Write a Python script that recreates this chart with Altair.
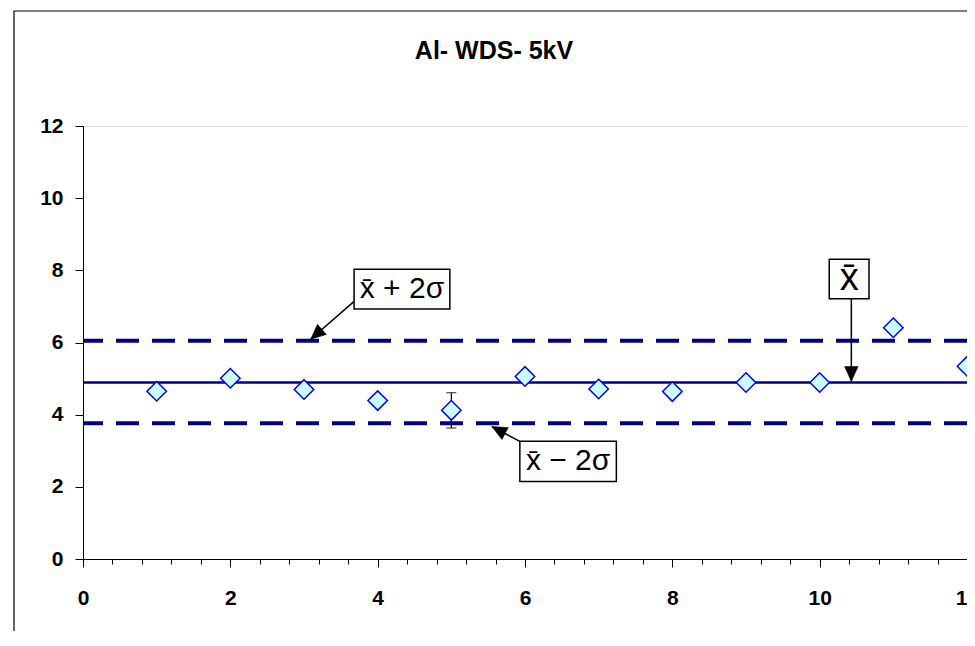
import math
import altair as alt
import pandas as pd

# ---------------- data ----------------
sample = [1, 2, 3, 4, 5, 6, 7, 8, 9, 10, 11, 12]
value = [4.65, 5.01, 4.70, 4.39, 4.12, 5.06, 4.71, 4.64, 4.89, 4.89, 6.41, 5.34]

err_x = [5]
err_lo = [3.63]
err_hi = [4.61]

mean_val = [4.89]
limit_vals = [6.05, 3.76]

x_ticks = [round(i * 0.4, 1) for i in range(31)]
y_ticks = [0, 2, 4, 6, 8, 10, 12]

# annotation boxes (data units)
box_text = ["x\u0304 + 2\u03c3", "x\u0304 \u2212 2\u03c3", "x\u0304"]
box_x1 = [3.68, 5.93, 10.13]
box_x2 = [4.98, 7.24, 10.67]
box_y1 = [8.03, 3.26, 8.31]
box_y2 = [6.93, 2.15, 7.21]
box_fs = [30, 30, 38]

# arrows (tail -> tip, data units)
arr_tx = [3.68, 5.93, 10.43]
arr_ty = [7.14, 3.26, 7.21]
arr_hx = [3.09, 5.55, 10.43]
arr_hy = [6.09, 3.67, 4.92]

TITLE = ["Al- WDS- 5kV"]

# ---------------- layout ----------------
W, H = 884, 433
FONT = "Liberation Sans"
NAVY = "#000080"

xs = alt.Scale(domain=[0, 12], nice=False, zero=False)
ys = alt.Scale(domain=[0, 12], nice=False, zero=False)

px_x = W / 12
px_y = H / 12
angles = []
for tx, ty, hx, hy in zip(arr_tx, arr_ty, arr_hx, arr_hy):
    dx = (hx - tx) * px_x
    dy = -(hy - ty) * px_y
    angles.append(math.degrees(math.atan2(dx, -dy)) % 360)

pts = pd.DataFrame({"x": sample, "y": value})
err = pd.DataFrame({"x": err_x, "lo": err_lo, "hi": err_hi})
mean_df = pd.DataFrame({"y": mean_val})
lim_df = pd.DataFrame({"y": limit_vals})
boxes = pd.DataFrame({
    "x1": box_x1, "x2": box_x2, "y1": box_y1, "y2": box_y2,
    "t": box_text, "fs": box_fs,
    "cx": [(a + b) / 2 for a, b in zip(box_x1, box_x2)],
    "cy": [(a + b) / 2 for a, b in zip(box_y1, box_y2)],
})
arrows = pd.DataFrame({"tx": arr_tx, "ty": arr_ty, "hx": arr_hx, "hy": arr_hy, "ang": angles})
frame_df = pd.DataFrame({"a": [0]})
title_df = pd.DataFrame({"t": TITLE})

major_test = "abs(datum.value - 2*round(datum.value/2)) < 0.01"

x_axis = alt.Axis(
    values=x_ticks,
    labelExpr=f"({major_test}) ? format(datum.value, 'd') : ''",
    tickSize={"condition": {"test": major_test, "value": 8}, "value": 5},
    labelPadding=20,
    labelFontSize=21,
    labelFontWeight="bold",
    labelFont=FONT,
    labelColor="black",
    domainColor="black",
    tickColor="black",
    grid=False,
    title=None,
    labelOverlap=False,
    labelFlush=False,
)
y_axis = alt.Axis(
    values=y_ticks,
    tickSize=8,
    labelPadding=12,
    labelFontSize=21,
    labelFontWeight="bold",
    labelFont=FONT,
    labelColor="black",
    domainColor="black",
    tickColor="black",
    grid=False,
    title=None,
)


def X(field):
    return alt.X(field, type="quantitative", scale=xs, axis=x_axis)


def Y(field):
    return alt.Y(field, type="quantitative", scale=ys, axis=y_axis)


frame = alt.Chart(frame_df).mark_rect(
    fill="transparent", stroke="black", strokeWidth=1.2
).encode(
    x=alt.value(-69), x2=alt.value(2000), y=alt.value(-115), y2=alt.value(2000)
)

title = alt.Chart(title_df).mark_text(
    font=FONT, fontSize=25, fontWeight="bold", color="black",
    align="center", baseline="alphabetic",
).encode(x=alt.value(411), y=alt.value(-67), text="t:N")

base_pts = alt.Chart(pts).mark_point(
    shape="diamond", filled=True, fill="#CCFFFF", stroke="#0000FF",
    strokeWidth=1.5, size=380, opacity=1
).encode(x=X("x"), y=Y("y"))

mean_line = alt.Chart(mean_df).mark_rule(color=NAVY, strokeWidth=2.5).encode(y=Y("y"))
lim_lines = alt.Chart(lim_df).mark_rule(
    color=NAVY, strokeWidth=4, strokeDash=[23, 13]
).encode(y=Y("y"))

err_rule = alt.Chart(err).mark_rule(color="black", strokeWidth=1.2).encode(
    x=X("x"), y=Y("lo"), y2="hi:Q",
)
err_cap_lo = alt.Chart(err).mark_tick(
    color="black", orient="horizontal", size=10, thickness=1.2
).encode(x=X("x"), y=Y("lo"))
err_cap_hi = alt.Chart(err).mark_tick(
    color="black", orient="horizontal", size=10, thickness=1.2
).encode(x=X("x"), y=Y("hi"))

arrow_lines = alt.Chart(arrows).mark_rule(color="black", strokeWidth=1.5).encode(
    x=X("tx"), y=Y("ty"), x2="hx:Q", y2="hy:Q",
)
arrow_heads = alt.Chart(arrows).mark_point(
    shape="M0,0L-0.45,1L0.45,1Z", filled=True, fill="black",
    stroke="black", strokeWidth=0.5, size=900, opacity=1
).encode(
    x=X("hx"), y=Y("hy"),
    angle=alt.Angle("ang:Q", scale=None),
)

box_rects = alt.Chart(boxes).mark_rect(
    fill="white", stroke="black", strokeWidth=1.5
).encode(x=X("x1"), x2="x2:Q", y=Y("y1"), y2="y2:Q")

box_texts = alt.Chart(boxes).mark_text(
    font=FONT, color="black", align="center", baseline="middle"
).encode(
    x=X("cx"), y=Y("cy"),
    text="t:N",
    size=alt.Size("fs:Q", scale=None),
)

chart = alt.layer(
    frame, title, mean_line, lim_lines, err_rule, err_cap_lo, err_cap_hi, base_pts,
    arrow_lines, arrow_heads, box_rects, box_texts,
).properties(
    width=W,
    height=H,
    autosize=alt.AutoSizeParams(type="none"),
    padding={"left": 75, "top": 118, "right": 0, "bottom": 72},
).configure_view(
    stroke="#808080", strokeWidth=1.5
).configure(background="white")

chart.save("out.html", embed_options={"renderer": "svg", "actions": False})
